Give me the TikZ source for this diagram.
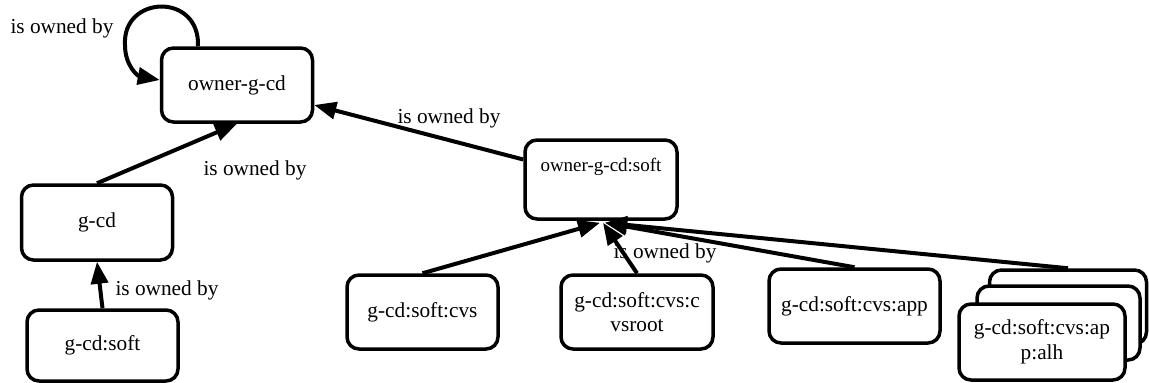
\documentclass[tikz,border=0pt]{standalone}
\usepackage{fontspec}
\setmainfont{Liberation Serif}
\usetikzlibrary{arrows.meta,calc}
\begin{document}
\begin{tikzpicture}[x=1pt,y=-1pt,
  box/.style={draw,line width=3.5pt,rounded corners=12pt,fill=white,inner sep=0pt,
    minimum width=151pt,minimum height=74pt,align=center,font=\fontsize{21.3}{24.5}\selectfont},
  edge/.style={line width=4pt,-{Triangle[length=22pt,width=17pt]}},
  lbl/.style={font=\fontsize{21.3}{24.5}\selectfont,inner sep=0pt}]
\useasboundingbox (0,0) rectangle (1149,383);
% nodes
\node[box] (owner) at (237,85) {owner-g-cd};
\node[box,minimum height=75pt] (gcd) at (97,222.5) {g-cd};
\node[box,minimum height=71pt] (gcdsoft) at (102.5,345.5) {g-cd:soft};
\node[box,minimum width=152pt,minimum height=79pt,font=\fontsize{19}{23}\selectfont] (os) at (601,179.5) {owner-g-cd:soft\\\strut};
\node[box] (cvs) at (422.5,312) {g-cd:soft:cvs};
\node[box,minimum width=152pt] (cvsroot) at (637,312) {g-cd:soft:cvs:c\\vsroot};
\node[box,minimum width=171pt] (app) at (854.5,306) {g-cd:soft:cvs:app};
\node[box,minimum width=157pt] (back) at (1068,307) {};
\node[box,minimum width=163pt] (mid) at (1058.5,323) {};
\node[box,minimum width=166pt,minimum height=76pt] (front) at (1042,342) {g-cd:soft:cvs:ap\\p:alh};
% labels
\node[lbl] (l1) at (62,28) {is owned by};
\node[lbl] (l2) at (255,170) {is owned by};
\node[lbl] (l3) at (167,290) {is owned by};
\node[lbl] (l4) at (449,118) {is owned by};
\node[lbl] (l5) at (665,253) {is owned by};
% edges
\draw[edge] ($(owner.north)+(-39,0)$) .. controls (200,-8) and (122,-5) .. (125,45)
  .. controls (125,66) and (138,76) .. ($(owner.west)+(0,-5)$);
\draw[edge] (gcd.north) -- (owner.south);
\draw[edge] (gcdsoft.north) -- (gcd.south);
\draw[edge] ($(os.west)+(0,-20)$) -- ($(owner.east)+(0,20)$);
\draw[edge] (cvs.north) -- ($(os.south)+(-1,2)$);
\draw[edge] (cvsroot.north) -- ($(os.south)+(2,2)$);
\draw[edge] (app.north) -- ($(os.south)+(4,2)$);
\draw[edge] (back.north) -- ($(os.south)+(4,2)$);
\end{tikzpicture}
\end{document}
